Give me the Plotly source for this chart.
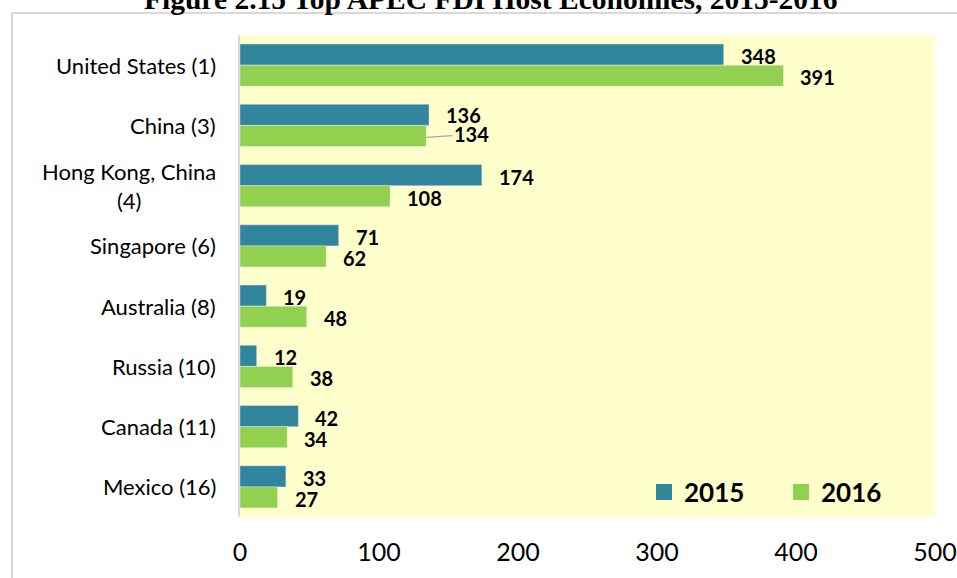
import plotly.graph_objects as go

categories = ["United States (1)", "China (3)", "Hong Kong, China<br>(4)", "Singapore (6)",
              "Australia (8)", "Russia (10)", "Canada (11)", "Mexico (16)"]
values_2015 = [348, 136, 174, 71, 19, 12, 42, 33]
values_2016 = [391, 134, 108, 62, 48, 38, 34, 27]
series_names = ["2015", "2016"]
x_ticks = [0, 100, 200, 300, 400, 500]

C2015 = "#31859c"
C2016 = "#92d050"
LBL = "Lato"

fig = go.Figure()
fig.add_trace(go.Bar(y=categories, x=values_2015, orientation="h", name=series_names[0],
                     marker=dict(color=C2015, line=dict(color="rgba(255,255,255,0.35)", width=1)),
                     showlegend=False))
fig.add_trace(go.Bar(y=categories, x=values_2016, orientation="h", name=series_names[1],
                     marker=dict(color=C2016, line=dict(color="rgba(255,255,255,0.35)", width=1)),
                     showlegend=False))
# legend entries
for nm, col in zip(series_names, [C2015, C2016]):
    fig.add_trace(go.Scatter(x=[None], y=[None], mode="markers", name=f"<b>{nm}</b>",
                             marker=dict(symbol="square", size=16, color=col)))

annotations = []
for cat, v15, v16 in zip(categories, values_2015, values_2016):
    annotations.append(dict(x=v15, y=cat, xref="x", yref="y", text=f"<b>{v15}</b>",
                            showarrow=False, xanchor="left", xshift=15, yshift=10 if cat.startswith("China") else 9,
                            font=dict(family=LBL, size=20, color="black")))
    if cat.startswith("China"):
        annotations.append(dict(x=v16, y=cat, xref="x", yref="y", text=f"<b>{v16}</b>",
                                showarrow=True, arrowhead=0, arrowwidth=1.3, arrowcolor="#a6a6a6",
                                ax=45, ay=-3, yshift=-12, standoff=0,
                                font=dict(family=LBL, size=20, color="black")))
    else:
        annotations.append(dict(x=v16, y=cat, xref="x", yref="y", text=f"<b>{v16}</b>",
                                showarrow=False, xanchor="left", xshift=15, yshift=-12,
                                font=dict(family=LBL, size=20, color="black")))
    # category label
    annotations.append(dict(x=0, y=cat, xref="paper", yref="y", text=cat, showarrow=False,
                            xanchor="right", xshift=-22, align="center",
                            font=dict(family=LBL, size=22, color="black")))

annotations.append(dict(x=(491 - 240) / 695, y=(517 - 17) / 482, xref="paper", yref="paper",
                        yanchor="bottom", xanchor="center", showarrow=False,
                        text="<b>Figure 2.15 Top APEC FDI Host Economies, 2015-2016</b>",
                        font=dict(family="Liberation Serif", size=29.5, color="black")))

fig.update_layout(
    width=957, height=578,
    margin=dict(l=240, r=22, t=35, b=61, autoexpand=False),
    paper_bgcolor="white", plot_bgcolor="#ffffcc",
    barmode="group", bargap=0.3, bargroupgap=0,
    annotations=annotations,
    legend=dict(orientation="h", x=(644 - 240) / 695, y=(517 - 492) / 482,
                xanchor="left", yanchor="middle", bgcolor="rgba(0,0,0,0)",
                entrywidth=92, entrywidthmode="pixels",
                font=dict(family=LBL, size=26, color="black"), itemsizing="trace"),
    shapes=[dict(type="rect", xref="paper", yref="paper",
                 x0=(12 - 240) / 695, x1=1.2, y0=-0.3, y1=(517 - 13) / 482,
                 line=dict(color="#d9d9d9", width=2), fillcolor="rgba(0,0,0,0)", layer="below")],
)
fig.update_xaxes(range=[0, 500], tickvals=x_ticks, showgrid=False, zeroline=False, showline=False,
                 automargin=False,
                 tickfont=dict(family=LBL, size=25, color="black"), ticks="", ticklabelstandoff=18)
fig.update_yaxes(autorange="reversed", showticklabels=False, showgrid=False, zeroline=False,
                 automargin=False,
                 showline=True, linecolor="#d9d9d9", linewidth=2, ticks="")

fig.write_html("out.html", config={"displayModeBar": False},
               post_script="document.body.style.margin='0px';")
